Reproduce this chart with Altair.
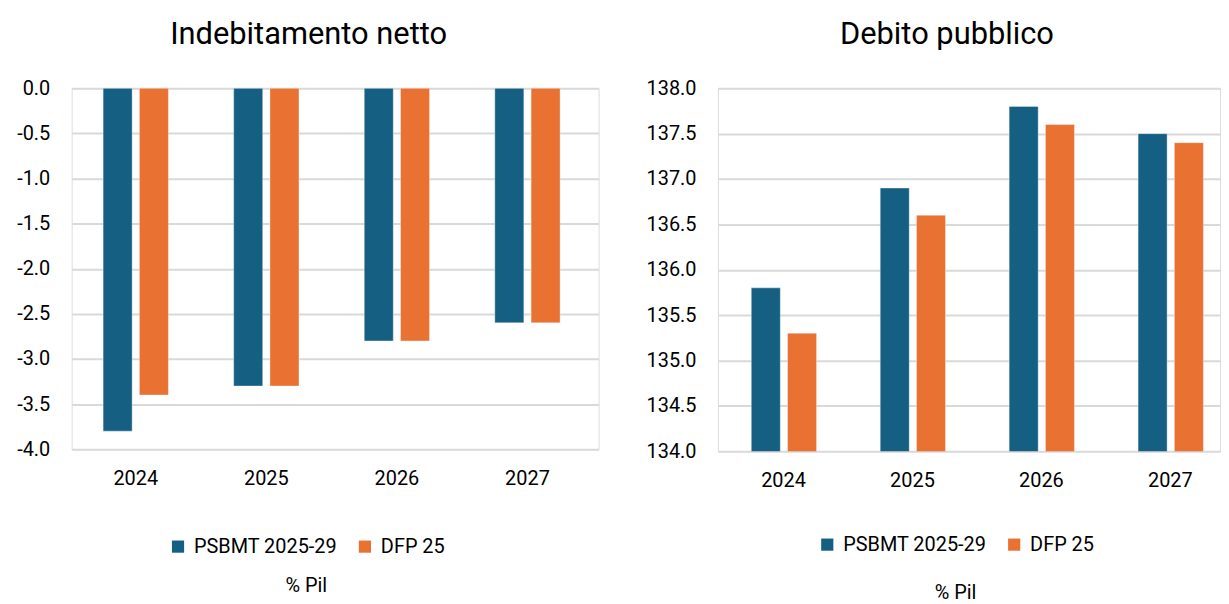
import altair as alt
import pandas as pd

years = ["2024", "2025", "2026", "2027"]
series = ["PSBMT 2025-29", "DFP 25"]
indeb_psbmt = [-3.8, -3.3, -2.8, -2.6]
indeb_dfp = [-3.4, -3.3, -2.8, -2.6]
debito_psbmt = [135.8, 136.9, 137.8, 137.5]
debito_dfp = [135.3, 136.6, 137.6, 137.4]

colors = ["#156082", "#E97132"]
FONT = "Roboto"


def make_df(a, b):
    rows = []
    for i, y in enumerate(years):
        rows.append({"anno": y, "serie": series[0], "valore": a[i]})
        rows.append({"anno": y, "serie": series[1], "valore": b[i]})
    return pd.DataFrame(rows)


def panel(df, title, domain, width, height, lx, ly, tpad, po, align, tdx):
    ticks = [domain[0] + 0.5 * k for k in range(int(round((domain[1] - domain[0]) / 0.5)) + 1)]
    return alt.Chart(df).mark_bar(clip=True, stroke="white", strokeWidth=0.6, strokeOpacity=0.6).encode(
        x=alt.X("anno:N", sort=years, title=None,
                scale=alt.Scale(paddingInner=0.5, paddingOuter=po, align=align),
                axis=alt.Axis(labelAngle=0, labelPadding=20, domain=False, ticks=False,
                              labelFontSize=20, labelFont=FONT, labelColor="#000000")),
        xOffset=alt.XOffset("serie:N", sort=series,
                            scale=alt.Scale(paddingInner=0.2, paddingOuter=0)),
        y=alt.Y("valore:Q", title=None,
                scale=alt.Scale(domain=domain, zero=False, nice=False),
                axis=alt.Axis(values=ticks,
                              labelExpr="replace(format(datum.value, '.1f'), '\u2212', '-')",
                              domain=False, ticks=False, labelPadding=22,
                              labelFontSize=20, labelFont=FONT, labelColor="#000000",
                              grid=True, gridColor="#d9d9d9", gridWidth=2)),
        color=alt.Color("serie:N", sort=series,
                        scale=alt.Scale(domain=series, range=colors),
                        legend=alt.Legend(title="% Pil", orient="none", legendX=lx, legendY=ly,
                                          direction="horizontal", titleOrient="bottom",
                                          titleAnchor="middle", titlePadding=tpad,
                                          titleFontSize=20, titleFont=FONT, titleFontWeight="normal",
                                          titleColor="#000000",
                                          labelFontSize=20, labelFont=FONT, labelColor="#000000",
                                          symbolType="square", symbolSize=150, symbolStrokeWidth=0,
                                          labelOffset=6, columnPadding=18)),
    ).properties(
        width=width, height=height,
        title=alt.TitleParams(title, fontSize=31, font=FONT, fontWeight="normal",
                              color="#000000", anchor="middle", frame="bounds", offset=28,
                              dx=tdx),
    )


left = panel(make_df(indeb_psbmt, indeb_dfp), "Indebitamento netto", [-4.0, 0.0],
             530, 363, 97, 451, 20, 0.268, 0.45, 1)
right = panel(make_df(debito_psbmt, debito_dfp), "Debito pubblico", [134.0, 138.0],
              505, 365, 100, 449, 29, 0.197, 0.657, 14)

chart = alt.hconcat(left, right, spacing=46).resolve_scale(
    color="independent", y="independent", x="independent"
).resolve_legend(color="independent").configure_view(stroke=None).configure(
    padding={"left": 8, "top": 8, "right": 0, "bottom": 0}
)

chart.save("out.html", embed_options={"renderer": "svg", "actions": False})
